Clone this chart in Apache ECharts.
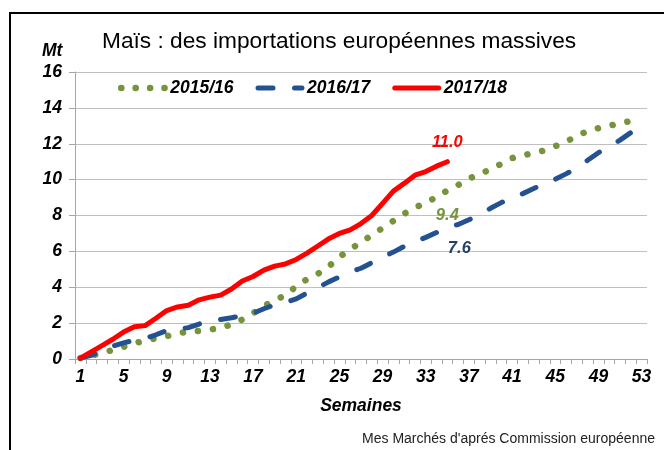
<!DOCTYPE html>
<html>
<head>
<meta charset="utf-8">
<script src="https://cdn.jsdelivr.net/npm/echarts@6/dist/echarts.min.js"></script>
<style>
  html, body { margin: 0; padding: 0; background: #fff; }
  #chart { width: 664px; height: 450px; }
</style>
</head>
<body>
<div id="chart"></div>
<script>
// semaines de campagne
let weeks = [1, 2, 3, 4, 5, 6, 7, 8, 9, 10, 11, 12, 13, 14, 15, 16, 17, 18, 19, 20,
  21, 22, 23, 24, 25, 26, 27, 28, 29, 30, 31, 32, 33, 34, 35, 36, 37, 38, 39, 40,
  41, 42, 43, 44, 45, 46, 47, 48, 49, 50, 51, 52, 53]
let yTicks = [0, 2, 4, 6, 8, 10, 12, 14, 16]
// imports cumulés, Mt
let data1516 = [0.05, 0.18, 0.35, 0.5, 0.68, 0.87, 1.03, 1.15, 1.28, 1.42, 1.53, 1.57, 1.64,
  1.73, 1.93, 2.2, 2.55, 2.95, 3.28, 3.55, 4.05, 4.45, 4.75, 5.15, 5.7, 6.1, 6.52,
  6.9, 7.3, 7.7, 8.1, 8.43, 8.72, 9.02, 9.4, 9.7, 10.06, 10.3, 10.58, 10.88, 11.2,
  11.35, 11.48, 11.63, 11.86, 12.12, 12.42, 12.72, 12.87, 13.0, 13.14, 13.27]
let data1617 = [0.05, 0.2, 0.45, 0.72, 0.9, 1.05, 1.15, 1.35, 1.58, 1.65, 1.75, 1.95, 2.1,
  2.2, 2.3, 2.42, 2.55, 2.8, 3.02, 3.15, 3.35, 3.68, 3.98, 4.3, 4.58, 4.85, 5.06,
  5.37, 5.68, 5.96, 6.28, 6.55, 6.78, 7.05, 7.35, 7.5, 7.76, 8.05, 8.4, 8.72, 9.0,
  9.22, 9.5, 9.8, 10.02, 10.32, 10.65, 11.08, 11.5, 11.86, 12.2, 12.62, 13.1]
let data1718 = [0.05, 0.4, 0.75, 1.1, 1.5, 1.8, 1.86, 2.27, 2.7, 2.9, 3.0, 3.3, 3.45, 3.56,
  3.9, 4.35, 4.6, 4.96, 5.18, 5.3, 5.55, 5.9, 6.3, 6.7, 7.0, 7.2, 7.55, 8.0, 8.68,
  9.36, 9.79, 10.25, 10.45, 10.75, 11.0]
let seriesNames = ['2015/16', '2016/17', '2017/18']
// valeurs affichées à la semaine 35
let labelWeek = 35
let labelTexts = ['9.4', '7.6', '11.0']

const FONT = '"Liberation Sans", Arial, sans-serif'
const boldIt = { fontFamily: FONT, fontWeight: 'bold', fontStyle: 'italic', color: '#000' }

function weekLabel(arr, text, label) {
  let i = labelWeek - 1
  return {
    symbol: 'circle',
    symbolSize: 0,
    silent: true,
    label: Object.assign({
      show: true,
      formatter: text,
      fontFamily: FONT, fontWeight: 'bold', fontStyle: 'italic', fontSize: 16.5
    }, label),
    data: [{ coord: [i, arr[i]], value: arr[i] }]
  }
}

let chart = echarts.init(document.getElementById('chart'))
let option = {
  backgroundColor: '#fff',
  animation: false,
  title: {
    text: 'Maïs : des importations européennes massives',
    left: 102,
    top: 30,
    padding: 0,
    textStyle: { fontFamily: FONT, fontWeight: 'normal', fontSize: 22.7, color: '#000' }
  },
  legend: {
    data: [
      { name: seriesNames[0], lineStyle: { type: [0.1, 14.3] } },
      { name: seriesNames[1] },
      { name: seriesNames[2] }
    ],
    left: 118,
    top: 79,
    padding: 0,
    itemWidth: 44,
    itemHeight: 14,
    itemGap: 22,
    itemStyle: { color: 'rgba(0,0,0,0)', borderWidth: 0, opacity: 0 },
    lineStyle: { width: 'inherit' },
    textStyle: Object.assign({ fontSize: 17.5 }, boldIt)
  },
  grid: { left: 75, right: 17, top: 72, bottom: 91 },
  xAxis: {
    type: 'category',
    data: weeks,
    boundaryGap: true,
    name: 'Semaines',
    nameLocation: 'middle',
    nameGap: 38,
    nameTextStyle: Object.assign({ fontSize: 17.5 }, boldIt),
    axisLine: { lineStyle: { color: '#A6A6A6', width: 1 } },
    axisTick: { show: true, interval: 0, length: 5, lineStyle: { color: '#A6A6A6' } },
    axisLabel: Object.assign({ interval: 3, margin: 9, fontSize: 17.5 }, boldIt)
  },
  yAxis: {
    type: 'value',
    min: yTicks[0],
    max: yTicks[yTicks.length - 1],
    interval: 2,
    axisLine: { show: true, lineStyle: { color: '#A6A6A6', width: 1 } },
    axisTick: { show: true, length: 6, lineStyle: { color: '#A6A6A6' } },
    splitLine: { lineStyle: { color: '#BFBFBF', width: 1 } },
    axisLabel: Object.assign({ margin: 13, fontSize: 17.5 }, boldIt)
  },
  series: [
    {
      name: seriesNames[0],
      type: 'line',
      symbol: 'none',
      data: data1516,
      lineStyle: { color: '#77933C', width: 6.5, type: [0.1, 15], cap: 'round', join: 'round' },
      itemStyle: { color: '#77933C' },
      markPoint: weekLabel(data1516, labelTexts[0], { position: 'bottom', distance: 17, color: '#77933C' }),
      z: 2
    },
    {
      name: seriesNames[1],
      type: 'line',
      symbol: 'none',
      data: data1617,
      lineStyle: { color: '#245291', width: 5, type: [15, 21.5], cap: 'round', join: 'round' },
      itemStyle: { color: '#245291' },
      markPoint: weekLabel(data1617, labelTexts[1], { position: 'bottom', distance: 13, offset: [12, 0], color: '#243F6B' }),
      z: 3
    },
    {
      name: seriesNames[2],
      type: 'line',
      symbol: 'none',
      data: data1718,
      lineStyle: { color: '#FF0000', width: 5, cap: 'round', join: 'round' },
      itemStyle: { color: '#FF0000' },
      markPoint: weekLabel(data1718, labelTexts[2], { position: 'top', distance: 11, color: '#FF0000' }),
      z: 4
    }
  ],
  graphic: [
    {
      type: 'rect',
      shape: { x: 10, y: 13, width: 700, height: 500 },
      style: { fill: 'none', stroke: '#000', lineWidth: 2 },
      silent: true
    },
    {
      type: 'text',
      left: 42,
      top: 42,
      style: { text: 'Mt', font: 'italic bold 17.5px ' + FONT, fill: '#000' }
    },
    {
      type: 'text',
      right: 9,
      top: 432,
      style: { text: "Mes Marchés d'aprés Commission européenne", font: '14px ' + FONT, fill: '#222' }
    }
  ]
}
chart.setOption(option)
</script>
</body>
</html>
